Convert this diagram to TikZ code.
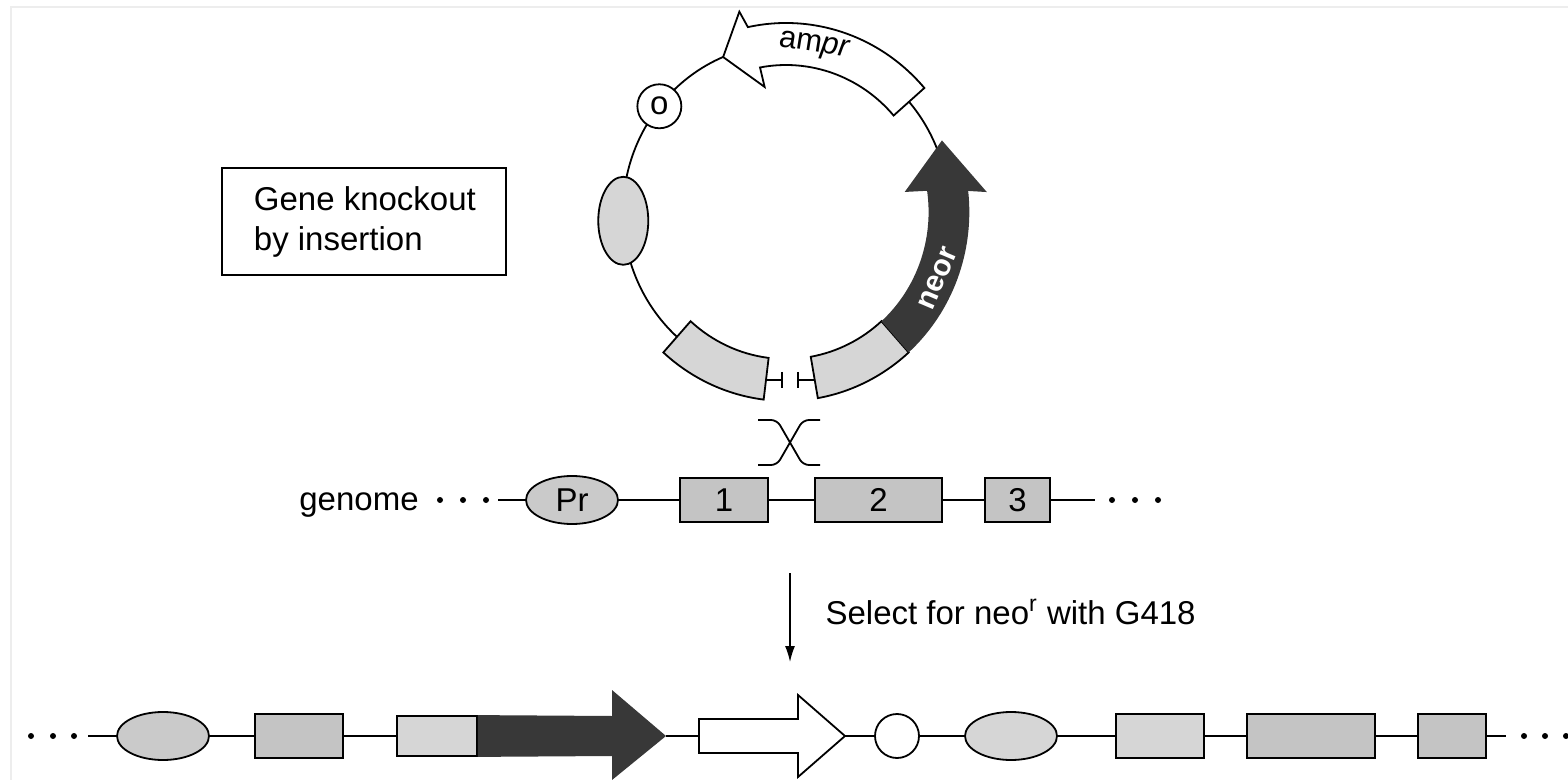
\documentclass[tikz,border=0pt]{standalone}
\usepackage{fontspec}
\setmainfont{Liberation Sans}
\usetikzlibrary{shapes.geometric,arrows.meta}
\definecolor{boxgrey}{HTML}{C4C4C4}
\definecolor{boxlight}{HTML}{D6D6D6}
\definecolor{neodark}{HTML}{383838}
\begin{document}
\begin{tikzpicture}[x=0.5pt, y=-0.5pt, line width=0.9pt, font=\fontsize{16.5}{20}\selectfont]
    \tikzstyle{exon}=[draw, fill=boxgrey, minimum height=22pt, inner sep=0pt]
    \tikzstyle{lexon}=[exon, fill=boxlight]
    \tikzstyle{prom}=[ellipse, draw, fill=boxgrey!90!white, minimum width=46pt, minimum height=24pt, inner sep=0pt]
    \tikzstyle{dot}=[circle, fill=black, minimum size=3pt, inner sep=0pt]
    \useasboundingbox (0,0) rectangle (1568,780);
    \draw[black!7] (11,780) -- (11,7) -- (1568,7);
    \node[draw, minimum width=142pt, minimum height=53.5pt] (gk) at (364,221.5) {};
    \node[anchor=west, align=left, inner sep=0pt] (gkt) at (253,222) {Gene knockout\\by insertion};
    % plasmid
    \begin{scope}[shift={(786,212)}, yscale=-1, xscale=0.97]
      \draw (-80:168) arc[start angle=-80, end angle=263, radius=168];
      \draw[fill=white] (41:147) arc[start angle=41, end angle=100.5, radius=147] -- (100:127) -- (112.7:168) -- (103.5:206) -- (102:189) arc[start angle=102, end angle=41, radius=189] -- cycle;
      \node[rotate=-9, font=\fontsize{15.5}{18}\selectfont] (amp) at (80:168) {am\textit{pr}};
      \node[circle, draw, fill=white, minimum size=22pt, inner sep=0pt] (ori) at (141:168) {o};
      \node[ellipse, draw, fill=boxlight, minimum width=25pt, minimum height=44pt] (pel) at (183:168) {};
      \draw[fill=boxlight] (228:147) arc[start angle=228, end angle=263, radius=147] -- (263:189) arc[start angle=263, end angle=228, radius=189] -- cycle;
      \draw[fill=boxlight] (-80:147) arc[start angle=-80, end angle=-48, radius=147] -- (-48:189) arc[start angle=-48, end angle=-80, radius=189] -- cycle;
      \fill[neodark] (-48:147) arc[start angle=-48, end angle=8.3, radius=147] -- (9.3:124) -- (24:176) -- (5.5:208) -- (6.4:189) arc[start angle=6.4, end angle=-48, radius=189] -- cycle;
      \node[rotate=67, text=white, font=\fontsize{15}{18}\selectfont\bfseries] (neo) at (-23:170) {neor};
    \end{scope}
    % cut ends
    \draw (766,380) -- (782,380);
    \draw (782,372) -- (782,388);
    \draw (798,380) -- (814,380);
    \draw (798,372) -- (798,388);
    % crossover
    \draw[rounded corners=3pt] (758,420) -- (777,420) -- (803,465) -- (820,465);
    \draw[rounded corners=3pt] (820,420) -- (803,420) -- (777,465) -- (758,465);
    % genome
    \node (gen) at (359,505) {genome};
    \node[dot] (g1) at (440,500) {};
    \node[dot] (g2) at (463,500) {};
    \node[dot] (g3) at (486,500) {};
    \coordinate (gs) at (498,500);
    \node[prom] (pr) at (572,500) {Pr};
    \node[exon, minimum width=44pt] (e1) at (724,500) {1};
    \node[exon, minimum width=63.5pt] (e2) at (878.5,500) {2};
    \node[exon, minimum width=32.5pt] (e3) at (1017.5,500) {3};
    \coordinate (ge) at (1095,500);
    \node[dot] (g4) at (1112,500) {};
    \node[dot] (g5) at (1135,500) {};
    \node[dot] (g6) at (1158,500) {};
    \draw (gs) -- (pr) -- (e1) -- (e2) -- (e3) -- (ge);
    % selection
    \coordinate (s1) at (790,573);
    \coordinate (s2) at (790,662);
    \draw[line width=0.7pt, -{Latex[length=8pt, width=5pt]}] (s1) -- (s2);
    \node[anchor=west] (sel) at (818,612) {Select for neo\textsuperscript{r} with G418};
    % recombinant
    \node[dot] (h1) at (31,736) {};
    \node[dot] (h2) at (53,736) {};
    \node[dot] (h3) at (74,736) {};
    \coordinate (bs) at (88,736);
    \node[prom] (b1) at (163,736) {};
    \node[exon, minimum width=44pt] (b2) at (299,736) {};
    \node[lexon, minimum width=40pt, minimum height=20pt] (b3) at (437,736) {};
    \fill[neodark] (b3.north east) -- (612,716) -- (612,690) -- (666,736) coordinate (ntip) -- (612,780) -- (612,756) -- (b3.south east) -- cycle;
    \draw[fill=white] (699,719) -- (798,719) -- (798,695) -- (845,736) coordinate (wt) -- (798,777) -- (798,753) -- (699,753) -- cycle;
    \coordinate (wl) at (699,736);
    \node[circle, draw, fill=white, minimum size=22pt, inner sep=0pt] (b4) at (897,736) {};
    \node[prom, fill=boxlight] (b5) at (1011,736) {};
    \node[lexon, minimum width=44pt] (b6) at (1160,736) {};
    \node[exon, minimum width=64pt] (b7) at (1311,736) {};
    \node[exon, minimum width=34pt] (b8) at (1452,736) {};
    \coordinate (be) at (1506,736);
    \node[dot] (h4) at (1524,736) {};
    \node[dot] (h5) at (1545,736) {};
    \node[dot] (h6) at (1566,736) {};
    \draw (bs) -- (b1) -- (b2) -- (b3);
    \draw (ntip) -- (wl);
    \draw (wt) -- (b4) -- (b5) -- (b6) -- (b7) -- (b8) -- (be);
\end{tikzpicture}
\end{document}
